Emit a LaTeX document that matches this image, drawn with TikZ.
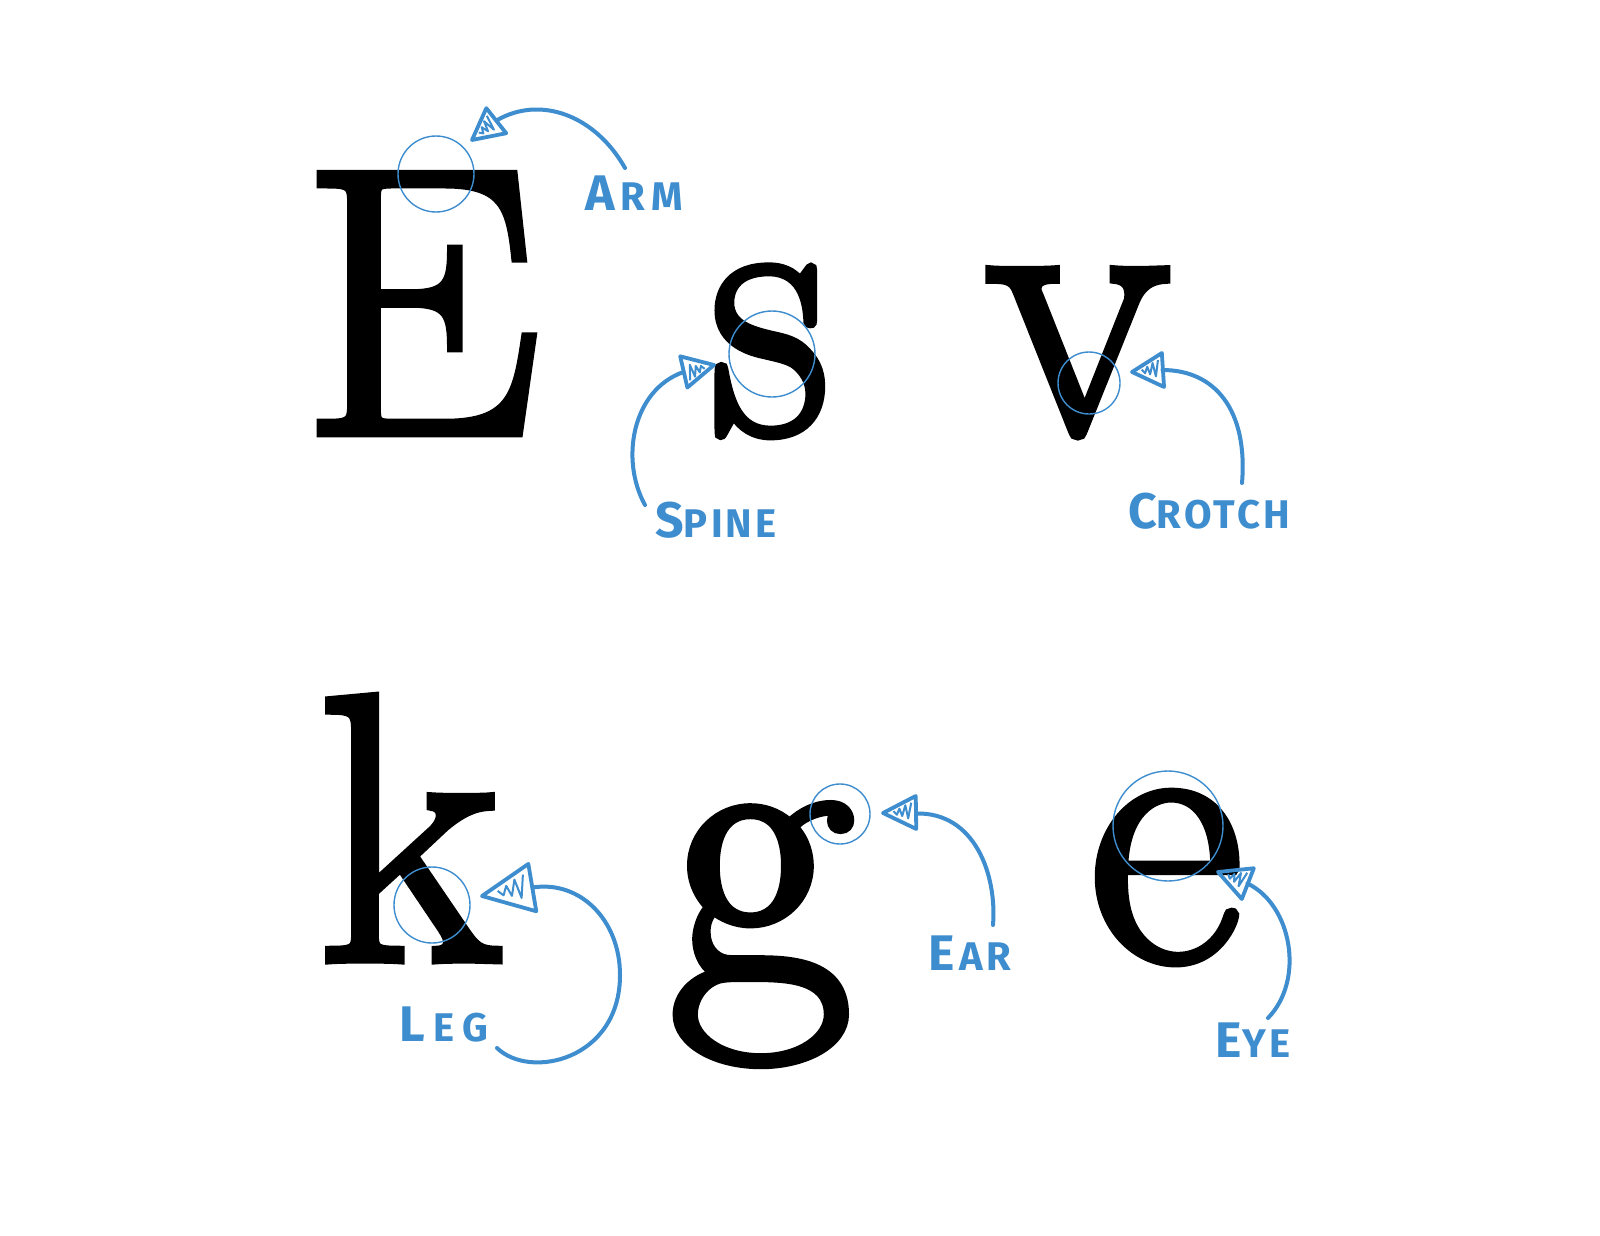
\documentclass[tikz,border=0pt]{standalone}
\usepackage{fontspec}
\usepackage{graphicx}
\setmainfont{Latin Modern Roman}
\newfontfamily\glyphfont{Latin Modern Roman}[FakeBold=2.3]
\newfontfamily\handfont{Fira Sans}[LetterSpace=8]
\usetikzlibrary{calc}
\definecolor{mblue}{HTML}{3D8DCF}
\newcommand\bigL[1]{{\fontsize{25}{25}\selectfont #1}}
\newcommand\smL[1]{{\fontsize{20}{20}\selectfont #1}}
\tikzset{
  glyph/.style={inner sep=0pt, anchor=base, font=\glyphfont\fontsize{190}{194}\selectfont},
  ring/.style={circle, draw=mblue, line width=0.7pt, inner sep=0pt},
  lbl/.style={inner sep=0pt, text=mblue, font=\handfont\bfseries},
  curve/.style={draw=mblue, line width=2pt, line cap=round},
  pics/ahead/.style 2 args={code={
    \draw[mblue, line width=1.9pt, line join=round] (0,0) -- (-#1,#2) -- (-#1,-#2) -- cycle;
    \draw[mblue, line width=1pt, line join=round]
      (-0.32*#1,0.1*#2) -- (-0.42*#1,-0.12*#2) -- (-0.5*#1,0.25*#2) -- (-0.58*#1,-0.2*#2)
      -- (-0.68*#1,0.45*#2) -- (-0.76*#1,-0.35*#2) -- (-0.86*#1,0.6*#2);
  }}
}
\begin{document}
\begin{tikzpicture}[x=0.5pt,y=-0.5pt]
\useasboundingbox[fill=white] (0,0) rectangle (1600,1236);
% letters
\node[glyph] (E) at (421,433) {E};
\node[glyph] (s) at (770,433) {\scalebox{0.88}[0.99]{s}};
\node[glyph] (v) at (1078,433) {v};
\node[glyph] (k) at (410,960) {k};
\node[glyph, font=\glyphfont\fontsize{200}{204}\selectfont] (g) at (761,983) {g};
\node[glyph] (e) at (1166,960) {e};
% rings
\node[ring, minimum size=38pt] (armc) at (436,174) {};
\node[ring, minimum size=43pt] (spinec) at (772,354) {};
\node[ring, minimum size=31pt] (crotchc) at (1089,383) {};
\node[ring, minimum size=38pt] (legc) at (432,905) {};
\node[ring, minimum size=30pt] (earc) at (840,814) {};
\node[ring, minimum size=55pt] (eyec) at (1168,826) {};
% labels
\node[lbl] (arm) at (634,193) {\bigL{A}\kern3pt\smL{R\kern3pt M}};
\node[lbl] (spine) at (716,520) {\bigL{S}\smL{PINE}};
\node[lbl] (crotch) at (1209,511) {\bigL{C}\smL{ROTCH}};
\node[lbl] (leg) at (444,1025) {\bigL{L}\kern4pt\smL{E\kern4pt G}};
\node[lbl] (ear) at (970,953) {\bigL{E}\kern2pt\smL{A\kern2pt R}};
\node[lbl] (eye) at (1253,1040) {\bigL{E}\smL{YE}};
% arrow tips and bases
\coordinate (armt) at (472,140);   \coordinate (armb) at (496.5,120.5);
\coordinate (spinet) at (714,365); \coordinate (spineb) at (683.5,372);
\coordinate (crotcht) at (1132,372); \coordinate (crotchb) at (1162.5,370);
\coordinate (legt) at (482,896);   \coordinate (legb) at (532.5,887.5);
\coordinate (eart) at (883,813);   \coordinate (earb) at (916,813.5);
\coordinate (eyet) at (1218,872);  \coordinate (eyeb) at (1247.5,883.5);
% connectors
\draw[curve] (625,168) .. controls (595,115) and (540,95) .. (armb);
\draw[curve] (645,505) .. controls (620,460) and (632,390) .. (spineb);
\draw[curve] (1242,483) .. controls (1248,410) and (1215,370) .. (crotchb);
\draw[curve] (497,1048) .. controls (530,1080) and (620,1060) .. (620,975)
  .. controls (620,920) and (580,880) .. (legb);
\draw[curve] (993,925) .. controls (997,875) and (975,812) .. (earb);
\draw[curve] (1268,1018) .. controls (1305,980) and (1292,905) .. (eyeb);
% arrow heads
\pic[rotate=218.5] at (armt) {ahead={31}{16}};
\pic[rotate=12.9] at (spinet) {ahead={31}{16}};
\pic[rotate=183.7] at (crotcht) {ahead={31}{17}};
\pic[rotate=189.5] at (legt) {ahead={51}{24}};
\pic[rotate=180.9] at (eart) {ahead={33}{16.5}};
\pic[rotate=158.7] at (eyet) {ahead={32}{16.5}};
\end{tikzpicture}
\end{document}
